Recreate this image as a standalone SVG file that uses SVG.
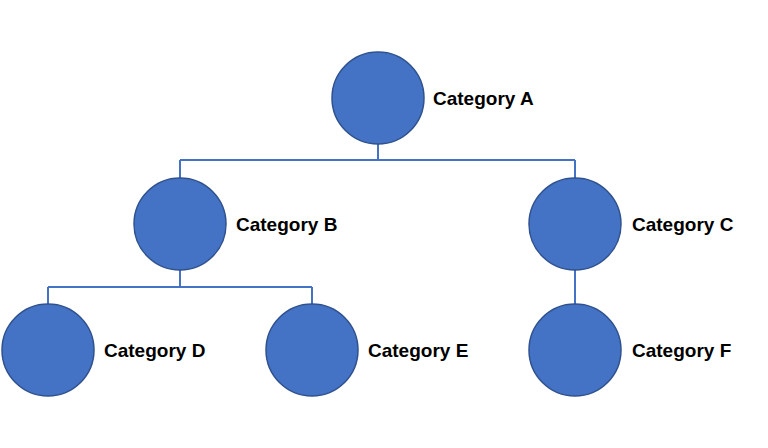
<svg xmlns="http://www.w3.org/2000/svg" width="768" height="448" viewBox="0 0 768 448">
<style>
.n{fill:#4472C4;stroke:#2F528F;stroke-width:1.5}
.t{font-family:"Liberation Sans",Arial,sans-serif;font-weight:bold;font-size:19px;fill:#000}
.c{fill:none;stroke:#4472C4;stroke-width:2}
</style>
<rect width="768" height="448" fill="#fff"/>
<g id="connectors">
<path class="c" d="M378 144V160M180 160H575M180 160V178M575 160V178"/>
<path class="c" d="M180 270V287M48 287H312M48 287V304M312 287V304"/>
<path class="c" d="M575 270V304"/>
</g>
<g id="A"><circle class="n" cx="378" cy="98" r="46"/><text class="t" x="433" y="105">Category A</text></g>
<g id="B"><circle class="n" cx="180" cy="224" r="46"/><text class="t" x="236" y="231">Category B</text></g>
<g id="C"><circle class="n" cx="575" cy="224" r="46"/><text class="t" x="632" y="231">Category C</text></g>
<g id="D"><circle class="n" cx="48" cy="350" r="46"/><text class="t" x="104" y="357">Category D</text></g>
<g id="E"><circle class="n" cx="312" cy="350" r="46"/><text class="t" x="368" y="357">Category E</text></g>
<g id="F"><circle class="n" cx="575" cy="350" r="46"/><text class="t" x="632" y="357">Category F</text></g>
</svg>
